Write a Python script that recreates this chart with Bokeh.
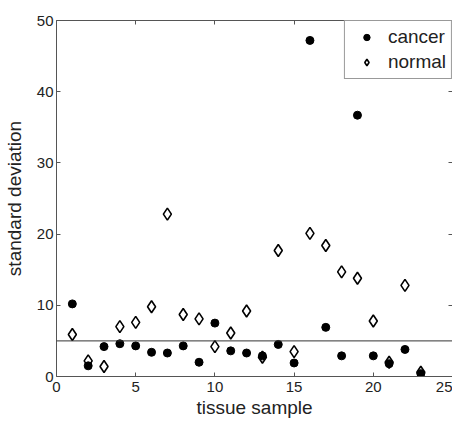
from bokeh.plotting import figure
from bokeh.models import Range1d, LinearAxis, Span, Legend, LegendItem, FixedTicker
from bokeh.embed import file_html
from bokeh.resources import INLINE

samples = list(range(1, 24))
cancer = [10.2, 1.5, 4.2, 4.6, 4.3, 3.4, 3.3, 4.3, 2.0, 7.5, 3.6, 3.3, 2.9, 4.5,
          1.9, 47.2, 6.9, 2.9, 36.7, 2.9, 1.8, 3.8, 0.4]
normal = [5.9, 2.2, 1.4, 7.0, 7.6, 9.8, 22.8, 8.7, 8.1, 4.2, 6.1, 9.2, 2.7, 17.7,
          3.5, 20.1, 18.4, 14.7, 13.8, 7.8, 2.0, 12.8, 0.6]
threshold = 5
x_ticks = [0, 5, 10, 15, 20, 25]
y_ticks = [0, 10, 20, 30, 40, 50]

FONT = "Liberation Sans"
AXIS_COLOR = "#555555"

p = figure(width=452, height=422, x_range=Range1d(0, 25), y_range=Range1d(0, 50),
           output_backend="svg", toolbar_location=None,
           min_border_left=55, min_border_right=0, min_border_top=20, min_border_bottom=46,
           x_axis_label="tissue sample", y_axis_label="standard deviation")
p.grid.visible = False
p.outline_line_color = None
p.background_fill_color = "white"
p.border_fill_color = "white"

p.add_layout(LinearAxis(), "above")
p.add_layout(LinearAxis(), "right")

for ax in p.xaxis:
    ax.ticker = FixedTicker(ticks=x_ticks)
for ax in p.yaxis:
    ax.ticker = FixedTicker(ticks=y_ticks)

for ax in p.axis:
    ax.axis_line_color = AXIS_COLOR
    ax.axis_line_width = 1
    ax.major_tick_line_color = AXIS_COLOR
    ax.major_tick_in = 4
    ax.major_tick_out = 0
    ax.minor_tick_line_color = None
    ax.major_label_text_font = FONT
    ax.major_label_text_font_size = "15px"
    ax.major_label_text_color = "#222222"
    ax.axis_label_text_font = FONT
    ax.axis_label_text_font_size = "19px"
    ax.axis_label_text_font_style = "normal"
    ax.axis_label_text_color = "#222222"

# top / right axes: ticks only
p.above[0].major_label_overrides = {t: "" for t in x_ticks}
p.right[0].major_label_overrides = {t: "" for t in y_ticks}
for ax in (p.above[0], p.right[0]):
    ax.major_label_standoff = 0
    ax.axis_label = None

p.below[0].major_label_standoff = 5
p.below[0].axis_label_standoff = 2
p.left[0].major_label_standoff = 3
p.left[0].axis_label_standoff = 9

p.add_layout(Span(location=threshold, dimension="width", line_color="#333333", line_width=1))

r_c = p.scatter(samples, cancer, marker="circle", size=8, fill_color="black",
                line_color="black")
r_n = p.scatter(samples, normal, marker="diamond", size=12, fill_alpha=0,
                line_color="black", line_width=1.6)

legend = Legend(items=[LegendItem(label="cancer", renderers=[r_c]),
                       LegendItem(label="normal", renderers=[r_n])],
                location="top_right", margin=0, padding=5, spacing=3,
                glyph_width=33, glyph_height=16, label_standoff=5,
                label_text_font=FONT, label_text_font_size="19px",
                label_text_color="#222222",
                border_line_color="#333333", border_line_width=1,
                background_fill_color="white", background_fill_alpha=1)
p.add_layout(legend, "center")

open("out.html", "w").write(file_html(p, INLINE))
